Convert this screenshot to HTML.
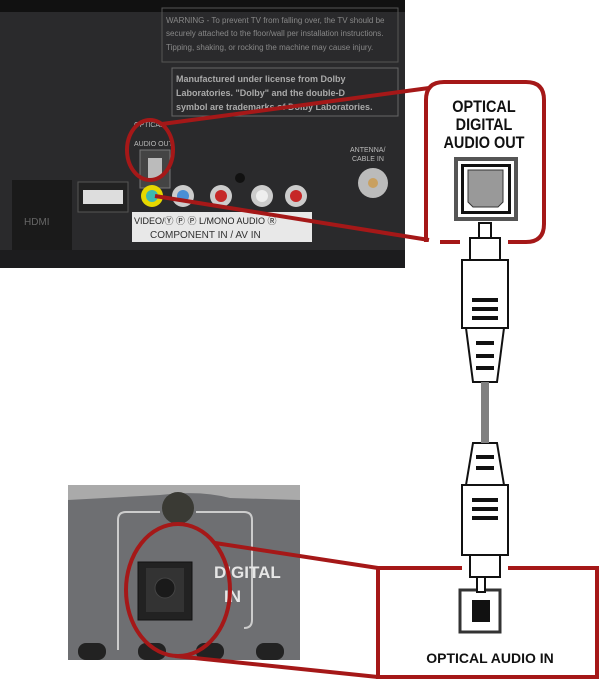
<!DOCTYPE html>
<html><head><style>body{margin:0;background:#fff}svg{display:block}</style></head><body>
<svg width="602" height="679" viewBox="0 0 602 679" xmlns="http://www.w3.org/2000/svg" font-family="Liberation Sans, sans-serif">
<!-- top photo -->
<rect x="0" y="0" width="405" height="268" fill="#2a2a2c"/>
<rect x="0" y="0" width="405" height="12" fill="#111"/>
<rect x="0" y="250" width="405" height="18" fill="#1c1c1e"/>
<rect x="162" y="8" width="236" height="54" fill="none" stroke="#555" stroke-width="1"/>
<text x="166" y="23" font-size="8" fill="#888">WARNING - To prevent TV from falling over, the TV should be</text>
<text x="166" y="36" font-size="8" fill="#888">securely attached to the floor/wall per installation instructions.</text>
<text x="166" y="50" font-size="8" fill="#888">Tipping, shaking, or rocking the machine may cause injury.</text>
<rect x="172" y="68" width="226" height="48" fill="none" stroke="#666"/>
<text x="176" y="82" font-size="9" font-weight="bold" fill="#aaa">Manufactured under license from Dolby</text>
<text x="176" y="96" font-size="9" font-weight="bold" fill="#aaa">Laboratories. "Dolby" and the double-D</text>
<text x="176" y="110" font-size="9" font-weight="bold" fill="#aaa">symbol are trademarks of Dolby Laboratories.</text>
<text x="134" y="127" font-size="7" fill="#bbb">OPTICAL</text>
<text x="134" y="146" font-size="7" fill="#bbb">AUDIO OUT</text>
<rect x="140" y="150" width="30" height="38" fill="#444" stroke="#777"/>
<rect x="148" y="158" width="14" height="20" fill="#bbb"/>
<rect x="12" y="180" width="60" height="70" fill="#1a1a1a"/>
<text x="24" y="225" font-size="10" fill="#666">HDMI</text>
<rect x="78" y="182" width="50" height="30" fill="#222" stroke="#555"/>
<rect x="83" y="190" width="40" height="14" fill="#ddd"/>
<circle cx="152" cy="196" r="11" fill="#e6d800"/><circle cx="152" cy="196" r="6" fill="#3cb8b0"/>
<circle cx="183" cy="196" r="11" fill="#ccc"/><circle cx="183" cy="196" r="6" fill="#4a8fd6"/>
<circle cx="221" cy="196" r="11" fill="#ccc"/><circle cx="221" cy="196" r="6" fill="#c62828"/>
<circle cx="262" cy="196" r="11" fill="#ccc"/><circle cx="262" cy="196" r="6" fill="#eee"/>
<circle cx="296" cy="196" r="11" fill="#ccc"/><circle cx="296" cy="196" r="6" fill="#c62828"/>
<circle cx="240" cy="178" r="5" fill="#111"/>
<circle cx="373" cy="183" r="15" fill="#bbb"/><circle cx="373" cy="183" r="5" fill="#c9a060"/>
<text x="350" y="152" font-size="7" fill="#bbb">ANTENNA/</text>
<text x="352" y="161" font-size="7" fill="#bbb">CABLE IN</text>
<rect x="132" y="212" width="180" height="30" fill="#e8e8e8"/>
<text x="134" y="224" font-size="9" fill="#222">VIDEO/Ⓨ  Ⓟ   Ⓟ  L/MONO AUDIO Ⓡ</text>
<text x="150" y="238" font-size="10" fill="#333">COMPONENT IN / AV IN</text>
<!-- lower photo -->
<rect x="68" y="485" width="232" height="175" fill="#6e6f72"/>
<path d="M68 485 L300 485 L300 500 L230 498 Q200 490 160 495 L68 500Z" fill="#aaa"/>
<path d="M118 650 L118 520 Q118 512 126 512 L160 512 M196 512 L244 512 Q252 512 252 520 L252 620 Q252 628 244 628" fill="none" stroke="#ccc" stroke-width="2"/>
<circle cx="178" cy="508" r="16" fill="#3a3a34"/>
<rect x="138" y="562" width="54" height="58" fill="#222" stroke="#111"/>
<rect x="146" y="568" width="38" height="44" fill="#333"/>
<circle cx="165" cy="588" r="10" fill="#1a1a1a" stroke="#444"/>
<text x="214" y="578" font-size="17" fill="#e6e6e6" font-weight="bold">DIGITAL</text>
<text x="224" y="602" font-size="17" fill="#e6e6e6" font-weight="bold">IN</text>
<rect x="78" y="643" width="28" height="17" rx="8" fill="#222"/>
<rect x="138" y="643" width="28" height="17" rx="8" fill="#222"/>
<rect x="196" y="643" width="28" height="17" rx="8" fill="#222"/>
<rect x="256" y="643" width="28" height="17" rx="8" fill="#222"/>
<!-- upper callout -->
<g stroke="#a51818" stroke-width="4" fill="none">
<ellipse cx="150" cy="150" rx="23" ry="30"/>
<line x1="162" y1="124" x2="429" y2="88"/>
<line x1="155" y1="196" x2="429" y2="240"/>
<path d="M426 242 L426 100 Q426 82 444 82 L526 82 Q544 82 544 100 L544 224 Q544 242 526 242 L508 242 M460 242 L440 242"/>
</g>
<text x="484" y="112" text-anchor="middle" font-size="17" font-weight="bold" fill="#111" transform="scale(0.85,1)" style="transform-origin:484px 0">OPTICAL</text>
<text x="484" y="130" text-anchor="middle" font-size="17" font-weight="bold" fill="#111" transform="scale(0.85,1)" style="transform-origin:484px 0">DIGITAL</text>
<text x="484" y="148" text-anchor="middle" font-size="17" font-weight="bold" fill="#111" transform="scale(0.85,1)" style="transform-origin:484px 0">AUDIO OUT</text>
<rect x="454" y="157" width="64" height="64" fill="#555"/>
<rect x="458" y="161" width="56" height="56" fill="#fff"/>
<rect x="461" y="164" width="50" height="50" fill="#111"/>
<rect x="464" y="167" width="44" height="44" fill="#fff"/>
<path d="M468 170 L503 170 L503 202 L498 207 L473 207 L468 202Z" fill="#999" stroke="#333"/>
<!-- cable -->
<g stroke="#111" stroke-width="2" fill="#fff">
<rect x="479" y="223" width="12" height="15"/>
<rect x="470" y="238" width="30" height="22"/>
<rect x="462" y="260" width="46" height="68"/>
<path d="M466 328 L504 328 L497 382 L473 382Z"/>
<path d="M473 443 L497 443 L504 485 L466 485Z"/>
<rect x="462" y="485" width="46" height="70"/>
<rect x="470" y="555" width="30" height="22"/>
</g>
<rect x="481" y="382" width="8" height="61" fill="#808080"/>
<g stroke="#111" stroke-width="4">
<line x1="472" y1="300" x2="498" y2="300"/><line x1="472" y1="309" x2="498" y2="309"/><line x1="472" y1="318" x2="498" y2="318"/>
<line x1="476" y1="343" x2="494" y2="343"/><line x1="476" y1="356" x2="494" y2="356"/><line x1="476" y1="368" x2="494" y2="368"/>
<line x1="476" y1="457" x2="494" y2="457"/><line x1="476" y1="468" x2="494" y2="468"/>
<line x1="472" y1="500" x2="498" y2="500"/><line x1="472" y1="509" x2="498" y2="509"/><line x1="472" y1="518" x2="498" y2="518"/>
</g>
<!-- lower callout -->
<g stroke="#a51818" stroke-width="4" fill="none">
<ellipse cx="178" cy="590" rx="52" ry="66"/>
<line x1="215" y1="543" x2="378" y2="568"/>
<line x1="175" y1="656" x2="378" y2="677"/>
<path d="M462 568 L378 568 L378 677 L597 677 L597 568 L508 568"/>
</g>
<rect x="460" y="590" width="40" height="42" fill="#fff" stroke="#333" stroke-width="3"/>
<rect x="472" y="600" width="18" height="22" fill="#111"/>
<rect x="477" y="577" width="8" height="15" fill="#fff" stroke="#111" stroke-width="2"/>
<text x="490" y="663" text-anchor="middle" font-size="14" font-weight="bold" fill="#111">OPTICAL AUDIO IN</text>
</svg>
</body></html>
